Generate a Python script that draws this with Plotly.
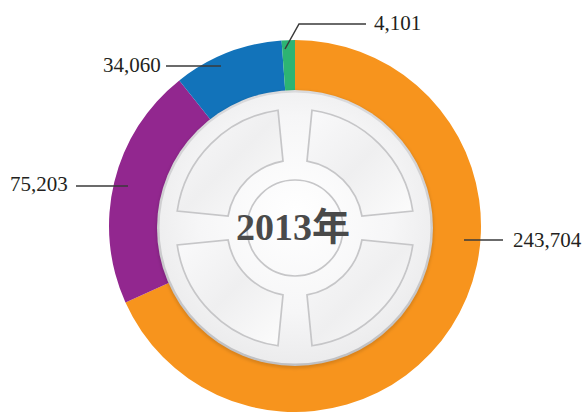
import math
import base64
import plotly.graph_objects as go

# ---------------- data ----------------
values = [243704, 75203, 34060, 4101]
value_labels = ["243,704", "75,203", "34,060", "4,101"]
slice_names = ["A", "B", "C", "D"]
colors = ["#F7941D", "#92278F", "#1273BA", "#2DB473"]
center_label = "2013年"

# ---------------- geometry (pixels) ----------------
W, H = 584, 412
CX, CY, R = 295, 226, 186          # donut centre / outer radius
DX, DY, DR = 295, 228, 138         # decorative disc


def px(x):
    return x / W


def py(y):
    return 1 - y / H


fig = go.Figure(
    go.Pie(
        values=values,
        labels=slice_names,
        sort=False,
        direction="clockwise",
        rotation=0,
        hole=0.70,
        marker=dict(colors=colors, line=dict(width=0)),
        textinfo="none",
        hoverinfo="skip",
        showlegend=False,
        domain=dict(x=[px(CX - R), px(CX + R)], y=[py(CY + R), py(CY - R)]),
    )
)

# ---------------- decorative centre disc (SVG image) ----------------
Ro, Ri, go_, gi = 119, 68, 17, 12
ho = math.sqrt(Ro ** 2 - go_ ** 2)
hi = math.sqrt(Ri ** 2 - gi ** 2)
paths = []
for sx, sy in [(1, -1), (-1, -1), (-1, 1), (1, 1)]:
    sw = 1 if sx * sy < 0 else 0
    p1 = (sx * go_, sy * ho)
    p2 = (sx * ho, sy * go_)
    p3 = (sx * hi, sy * gi)
    p4 = (sx * gi, sy * hi)
    d = (f"M{p1[0]:.2f},{p1[1]:.2f} A{Ro},{Ro} 0 0 {sw} {p2[0]:.2f},{p2[1]:.2f} "
         f"L{p3[0]:.2f},{p3[1]:.2f} A{Ri},{Ri} 0 0 {1 - sw} {p4[0]:.2f},{p4[1]:.2f} Z")
    paths.append(f'<path d="{d}" fill="url(#sg)" stroke="#c6c6c8" stroke-width="1.7"/>')

svg = f'''<svg xmlns="http://www.w3.org/2000/svg" width="300" height="300" viewBox="-150 -150 300 300">
<defs>
<radialGradient id="g" cx="0.5" cy="0.45" r="0.6">
<stop offset="0" stop-color="#ffffff"/>
<stop offset="0.6" stop-color="#f6f6f7"/>
<stop offset="1" stop-color="#e9e9ea"/>
</radialGradient>
<linearGradient id="sg" x1="0" y1="0" x2="1" y2="1">
<stop offset="0" stop-color="#fafafb"/>
<stop offset="0.5" stop-color="#efeff0"/>
<stop offset="1" stop-color="#fcfcfc"/>
</linearGradient>
<linearGradient id="rim" x1="0" y1="0" x2="0" y2="1">
<stop offset="0" stop-color="#dadadc"/>
<stop offset="1" stop-color="#c0c0c2"/>
</linearGradient>
<filter id="s" x="-20%" y="-20%" width="140%" height="140%"><feGaussianBlur stdDeviation="1.5"/></filter>
</defs>
<circle cx="0" cy="1.5" r="139" fill="rgba(0,0,0,0.12)" filter="url(#s)"/>
<circle r="{DR}" fill="url(#rim)"/>
<circle r="{DR - 2.5}" fill="url(#g)"/>
{''.join(paths)}
<circle r="48" fill="none" stroke="#c6c6c8" stroke-width="1.7"/>
</svg>'''
src = "data:image/svg+xml;base64," + base64.b64encode(svg.encode()).decode()

fig.add_layout_image(
    source=src, xref="paper", yref="paper",
    x=px(DX - 150), y=py(DY - 150), sizex=300 / W, sizey=300 / H,
    xanchor="left", yanchor="top", sizing="stretch", layer="above",
)

# ---------------- centre title ----------------
fig.add_annotation(
    text=f"<b>{center_label}</b>", x=px(DX - 2), y=py(DY - 1), xref="paper", yref="paper",
    showarrow=False, xanchor="center", yanchor="middle",
    font=dict(family="Liberation Serif, Noto Sans CJK SC", size=38, color="#4a4a4a"),
)

# ---------------- value labels with leader lines ----------------
lab_font = dict(family="Liberation Serif, Times New Roman, serif", size=21, color="#231F20")
line_style = dict(color="#3a3a3a", width=1.5)

# 243,704 (right)
fig.add_shape(type="line", xref="paper", yref="paper", x0=px(464), y0=py(240), x1=px(503), y1=py(240), line=line_style)
fig.add_annotation(text=value_labels[0], x=px(511), y=py(240), xref="paper", yref="paper",
                   showarrow=False, xanchor="left", yanchor="middle", font=lab_font)
# 75,203 (left)
fig.add_shape(type="line", xref="paper", yref="paper", x0=px(76), y0=py(186), x1=px(128), y1=py(186), line=line_style)
fig.add_annotation(text=value_labels[1], x=px(70), y=py(184), xref="paper", yref="paper",
                   showarrow=False, xanchor="right", yanchor="middle", font=lab_font)
# 34,060 (upper left)
fig.add_shape(type="line", xref="paper", yref="paper", x0=px(166), y0=py(66), x1=px(221), y1=py(66), line=line_style)
fig.add_annotation(text=value_labels[2], x=px(163), y=py(65), xref="paper", yref="paper",
                   showarrow=False, xanchor="right", yanchor="middle", font=lab_font)
# 4,101 (top)
fig.add_shape(type="path", xref="paper", yref="paper",
              path=f"M{px(285)},{py(49)} L{px(299)},{py(24)} L{px(366)},{py(24)}", line=line_style)
fig.add_annotation(text=value_labels[3], x=px(372), y=py(23), xref="paper", yref="paper",
                   showarrow=False, xanchor="left", yanchor="middle", font=lab_font)

fig.update_layout(
    width=W, height=H, autosize=False,
    margin=dict(l=0, r=0, t=0, b=0),
    paper_bgcolor="white", plot_bgcolor="white",
)

fig.write_html("out.html")
